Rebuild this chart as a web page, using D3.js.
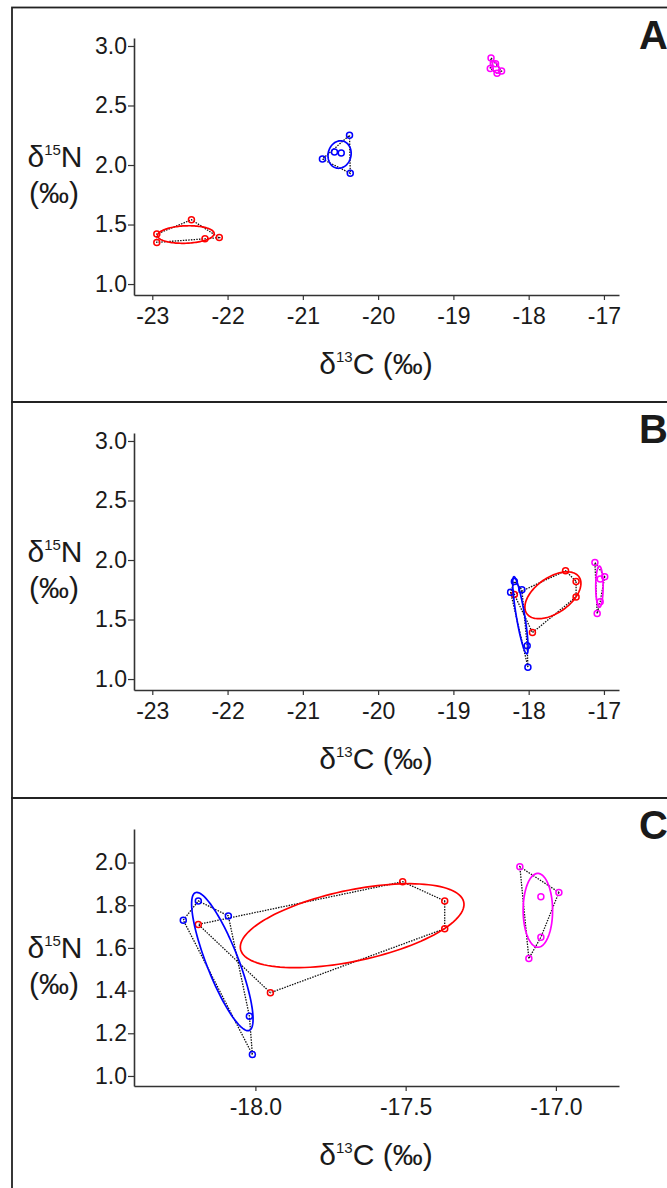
<!DOCTYPE html>
<html>
<head>
<meta charset="utf-8">
<script src="https://cdn.jsdelivr.net/npm/d3@7"></script>
<style>
  html, body { margin: 0; padding: 0; background: #fff; }
  svg { display: block; }
  text { font-family: "Liberation Sans", Arial, sans-serif; fill: #1a1a1a; }
</style>
</head>
<body>
<svg id="chart" width="667" height="1188"></svg>
<script>
// ---- Data: δ13C / δ15N per group ----
// Panel A
const aRedC = [-22.94, -22.94, -22.48, -22.30, -22.11];
const aRedN = [1.42, 1.35, 1.54, 1.38, 1.39];
const aBlueC = [-20.74, -20.38, -20.37, -20.58, -20.49];
const aBlueN = [2.05, 2.25, 1.93, 2.11, 2.10];
const aMagentaC = [-18.50, -18.44, -18.51, -18.36, -18.42];
const aMagentaN = [2.90, 2.85, 2.81, 2.79, 2.77];

// Panels B and C (C is an enlarged view of the same samples)
const bRedC = [-18.19, -17.95, -17.51, -17.37, -17.37];
const bRedN = [1.71, 1.39, 1.91, 1.82, 1.69];
const bBlueC = [-18.24, -18.19, -18.09, -18.02, -18.01];
const bBlueN = [1.73, 1.82, 1.75, 1.28, 1.10];
const bMagentaC = [-17.12, -16.99, -17.05, -17.05, -17.09];
const bMagentaN = [1.98, 1.86, 1.84, 1.65, 1.55];

// Tick values
const xTicksAB = [-23, -22, -21, -20, -19, -18, -17];
const yTicksAB = [1.0, 1.5, 2.0, 2.5, 3.0];
const xTicksC = [-18.0, -17.5, -17.0];
const yTicksC = [1.0, 1.2, 1.4, 1.6, 1.8, 2.0];

const panelLetters = ["A", "B", "C"];

// ---- Styling ----
const groupColours = ["#ff0000", "#0000ff", "#ff00ff"];

const svg = d3.select("#chart");
svg.append("rect").attr("width", 667).attr("height", 1188).attr("fill", "#fff");

function toPoints(cs, ns) { return cs.map((c, i) => [c, ns[i]]); }

// plain hyphen-minus for negative tick labels
const hyphen = f => d => f(d).replace("\u2212", "-");

const groupsA = [toPoints(aRedC, aRedN), toPoints(aBlueC, aBlueN), toPoints(aMagentaC, aMagentaN)];
const groupsB = [toPoints(bRedC, bRedN), toPoints(bBlueC, bBlueN), toPoints(bMagentaC, bMagentaN)];

const panels = [
  { letter: panelLetters[0], frameTop: 7.5, frameBottom: 402, top: 38, groups: groupsA,
    xDomain: [-23.243, -16.80], yDomain: [0.908, 3.067], xTicks: xTicksAB, yTicks: yTicksAB,
    fmtX: hyphen(d3.format("d")), fmtY: d3.format(".1f") },
  { letter: panelLetters[1], frameTop: 402, frameBottom: 798, top: 433, groups: groupsB,
    xDomain: [-23.243, -16.80], yDomain: [0.908, 3.067], xTicks: xTicksAB, yTicks: yTicksAB,
    fmtX: hyphen(d3.format("d")), fmtY: d3.format(".1f") },
  { letter: panelLetters[2], frameTop: 798, frameBottom: 1200, top: 829, groups: groupsB,
    xDomain: [-18.404, -16.79], yDomain: [0.953, 2.157], xTicks: xTicksC, yTicks: yTicksC,
    fmtX: hyphen(d3.format(".1f")), fmtY: d3.format(".1f") }
];

const left = 134, right = 619, plotH = 257;

// Standard ellipse (1 SD) from the sample covariance of a group
function standardEllipse(pts, nSeg = 120) {
  const n = pts.length;
  const mx = d3.mean(pts, d => d[0]);
  const my = d3.mean(pts, d => d[1]);
  let sxx = 0, syy = 0, sxy = 0;
  pts.forEach(([x, y]) => {
    sxx += (x - mx) * (x - mx);
    syy += (y - my) * (y - my);
    sxy += (x - mx) * (y - my);
  });
  sxx /= (n - 1); syy /= (n - 1); sxy /= (n - 1);
  const half = (sxx + syy) / 2;
  const root = Math.sqrt(((sxx - syy) / 2) ** 2 + sxy ** 2);
  const l1 = half + root, l2 = Math.max(half - root, 0);
  const th = 0.5 * Math.atan2(2 * sxy, sxx - syy);
  const a = Math.sqrt(l1), b = Math.sqrt(l2);
  return d3.range(nSeg).map(i => {
    const t = (i / nSeg) * 2 * Math.PI;
    return [
      mx + a * Math.cos(t) * Math.cos(th) - b * Math.sin(t) * Math.sin(th),
      my + a * Math.cos(t) * Math.sin(th) + b * Math.sin(t) * Math.cos(th)
    ];
  });
}

panels.forEach(p => {
  const g = svg.append("g");
  // panel frame
  g.append("rect")
    .attr("x", 12).attr("y", p.frameTop)
    .attr("width", 700).attr("height", p.frameBottom - p.frameTop)
    .attr("fill", "none").attr("stroke", "#222").attr("stroke-width", 1.8);

  const bottom = p.top + plotH;
  const x = d3.scaleLinear().domain(p.xDomain).range([left, right]);
  const y = d3.scaleLinear().domain(p.yDomain).range([bottom, p.top]);

  const xAxis = g.append("g").attr("transform", `translate(0,${bottom})`)
    .call(d3.axisBottom(x).tickValues(p.xTicks).tickFormat(p.fmtX).tickSize(5).tickSizeOuter(0).tickPadding(8));
  const yAxis = g.append("g").attr("transform", `translate(${left},0)`)
    .call(d3.axisLeft(y).tickValues(p.yTicks).tickFormat(p.fmtY).tickSize(6).tickSizeOuter(0).tickPadding(1));
  [xAxis, yAxis].forEach(ax => {
    ax.select(".domain").attr("stroke", "#333").attr("stroke-width", 1.6);
    ax.selectAll(".tick line").attr("stroke", "#333").attr("stroke-width", 1.2);
    ax.selectAll(".tick text").attr("font-size", 23).attr("fill", "#1a1a1a")
      .attr("font-family", '"Liberation Sans", Arial, sans-serif');
  });

  const line = d3.line().x(d => x(d[0])).y(d => y(d[1])).curve(d3.curveLinearClosed);

  p.groups.forEach((pts, gi) => {
    // convex hull (dotted)
    const hull = d3.polygonHull(pts);
    g.append("path").attr("d", line(hull))
      .attr("fill", "none").attr("stroke", "#111").attr("stroke-width", 1.3)
      .attr("stroke-dasharray", "1.5,1.2");
    // standard ellipse
    g.append("path").attr("d", line(standardEllipse(pts)))
      .attr("fill", "none").attr("stroke", groupColours[gi]).attr("stroke-width", 1.7);
    // samples
    g.selectAll(null).data(pts).enter().append("circle")
      .attr("cx", d => x(d[0])).attr("cy", d => y(d[1])).attr("r", 3)
      .attr("fill", "none").attr("stroke", groupColours[gi]).attr("stroke-width", 1.5);
  });

  // axis titles
  const midY = (p.top + bottom) / 2;
  const yt = g.append("text").attr("x", 55).attr("y", midY).attr("text-anchor", "middle").attr("font-size", 30);
  yt.append("tspan").text("δ");
  yt.append("tspan").text("15").attr("font-size", 15).attr("dy", -12);
  yt.append("tspan").text("N").attr("dy", 12);
  g.append("text").attr("x", 54).attr("y", midY + 36).attr("text-anchor", "middle")
    .attr("font-size", 30).text("(‰)");

  const xt = g.append("text").attr("x", 376).attr("y", bottom + 79).attr("text-anchor", "middle").attr("font-size", 30);
  xt.append("tspan").text("δ");
  xt.append("tspan").text("13").attr("font-size", 15).attr("dy", -12);
  xt.append("tspan").text("C (‰)").attr("dy", 12);

  // panel letter
  g.append("text").attr("x", 639).attr("y", p.frameTop + 41)
    .attr("font-size", 40).attr("font-weight", "bold").attr("fill", "#000").text(p.letter);
});
</script>
</body>
</html>
